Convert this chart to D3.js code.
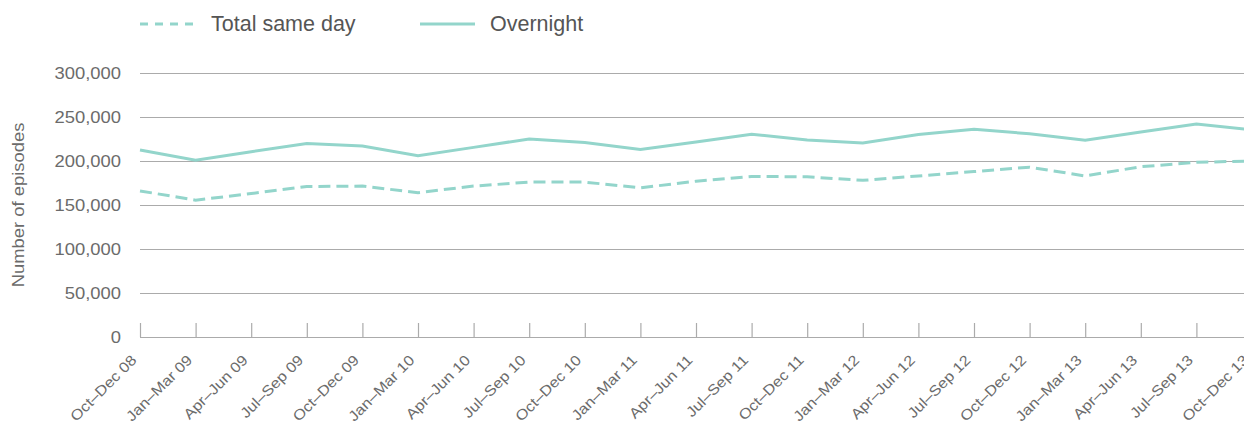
<!DOCTYPE html>
<html>
<head>
<meta charset="utf-8">
<script src="https://cdn.jsdelivr.net/npm/d3@7"></script>
<style>
  html, body { margin: 0; padding: 0; background: #fff; overflow: hidden; }
  svg { display: block; }
  text { font-family: "Liberation Sans", Arial, Helvetica, sans-serif; }
</style>
</head>
<body>
<svg id="chart" width="1244" height="421"></svg>
<script>
const categories = ["Oct\u2013Dec 08","Jan\u2013Mar 09","Apr\u2013Jun 09","Jul\u2013Sep 09","Oct\u2013Dec 09","Jan\u2013Mar 10","Apr\u2013Jun 10","Jul\u2013Sep 10","Oct\u2013Dec 10","Jan\u2013Mar 11","Apr\u2013Jun 11","Jul\u2013Sep 11","Oct\u2013Dec 11","Jan\u2013Mar 12","Apr\u2013Jun 12","Jul\u2013Sep 12","Oct\u2013Dec 12","Jan\u2013Mar 13","Apr\u2013Jun 13","Jul\u2013Sep 13","Oct\u2013Dec 13"];
const sameDay = [166000,155500,163000,171000,171500,164000,171500,176000,176000,169500,177000,182500,182000,178000,183000,188000,193000,183000,193500,198500,200000];
const overnight = [212500,201000,210500,220000,217000,206000,215500,225000,221000,213000,221500,230500,224000,220500,230000,236000,231000,223500,233000,242000,235500];
const yTicks = [0,50000,100000,150000,200000,250000,300000];
const seriesNames = ["Total same day","Overnight"];

const lineColor = "#93d5cb";
const gridColor = "#ababab";
const axisText = "#6b6b6b";
const stretch = 1.13;

const svg = d3.select("#chart");
const x = d3.scalePoint().domain(categories).range([140, 1252]);
const y = d3.scaleLinear().domain([0, 300000]).range([337, 73]);

// gridlines
const grid = svg.append("g").attr("transform", "translate(140,0)")
  .call(d3.axisLeft(y).tickValues(yTicks).tickSize(-1140).tickFormat(""));
grid.select(".domain").remove();
grid.selectAll("line").attr("stroke", gridColor).attr("stroke-width", 1.2);

// y tick labels
const yAx = svg.append("g").attr("transform", "translate(121,0)")
  .call(d3.axisLeft(y).tickValues(yTicks).tickSize(0).tickPadding(0).tickFormat(d3.format(",")));
yAx.select(".domain").remove();
yAx.selectAll("text")
  .attr("x", 0).attr("dy", "0.36em")
  .attr("transform", `scale(${stretch},1)`)
  .attr("fill", axisText).style("font-size", "16.3px").style("font-family", '"Liberation Sans", Arial, sans-serif');

// x axis
const xAx = svg.append("g").attr("transform", "translate(0,337)")
  .call(d3.axisBottom(x).tickSize(-14).tickSizeOuter(0));
xAx.select(".domain").attr("stroke", gridColor).attr("stroke-width", 1.2);
xAx.selectAll("line").attr("stroke", gridColor).attr("stroke-width", 1.2);
xAx.selectAll("text")
  .attr("y", 0).attr("dy", 0).attr("x", 0)
  .attr("text-anchor", "end")
  .attr("transform", `translate(-3,24) rotate(-45) scale(${stretch},1)`)
  .attr("fill", axisText).style("font-size", "14.5px").style("font-family", '"Liberation Sans", Arial, sans-serif');

// y title
svg.append("text")
  .attr("transform", `translate(24,205) rotate(-90) scale(${stretch},1)`)
  .attr("text-anchor", "middle")
  .attr("fill", axisText).style("font-size", "16.3px")
  .text("Number of episodes");

// lines
const line = d3.line().x((d, i) => x(categories[i])).y(d => y(d));
svg.append("path").datum(sameDay).attr("d", line)
  .attr("fill", "none").attr("stroke", lineColor).attr("stroke-width", 3)
  .attr("stroke-dasharray", "12,6");
svg.append("path").datum(overnight).attr("d", line)
  .attr("fill", "none").attr("stroke", lineColor).attr("stroke-width", 3);

// legend
const leg = svg.append("g");
leg.append("line").attr("x1", 140).attr("x2", 197).attr("y1", 24).attr("y2", 24)
  .attr("stroke", lineColor).attr("stroke-width", 3).attr("stroke-dasharray", "8,7");
leg.append("text").attr("x", 211).attr("y", 31).attr("fill", "#555")
  .style("font-size", "21.5px").text(seriesNames[0]);
leg.append("line").attr("x1", 420).attr("x2", 475).attr("y1", 24).attr("y2", 24)
  .attr("stroke", lineColor).attr("stroke-width", 3);
leg.append("text").attr("x", 490).attr("y", 31).attr("fill", "#555")
  .style("font-size", "21.5px").text(seriesNames[1]);
</script>
</body>
</html>
